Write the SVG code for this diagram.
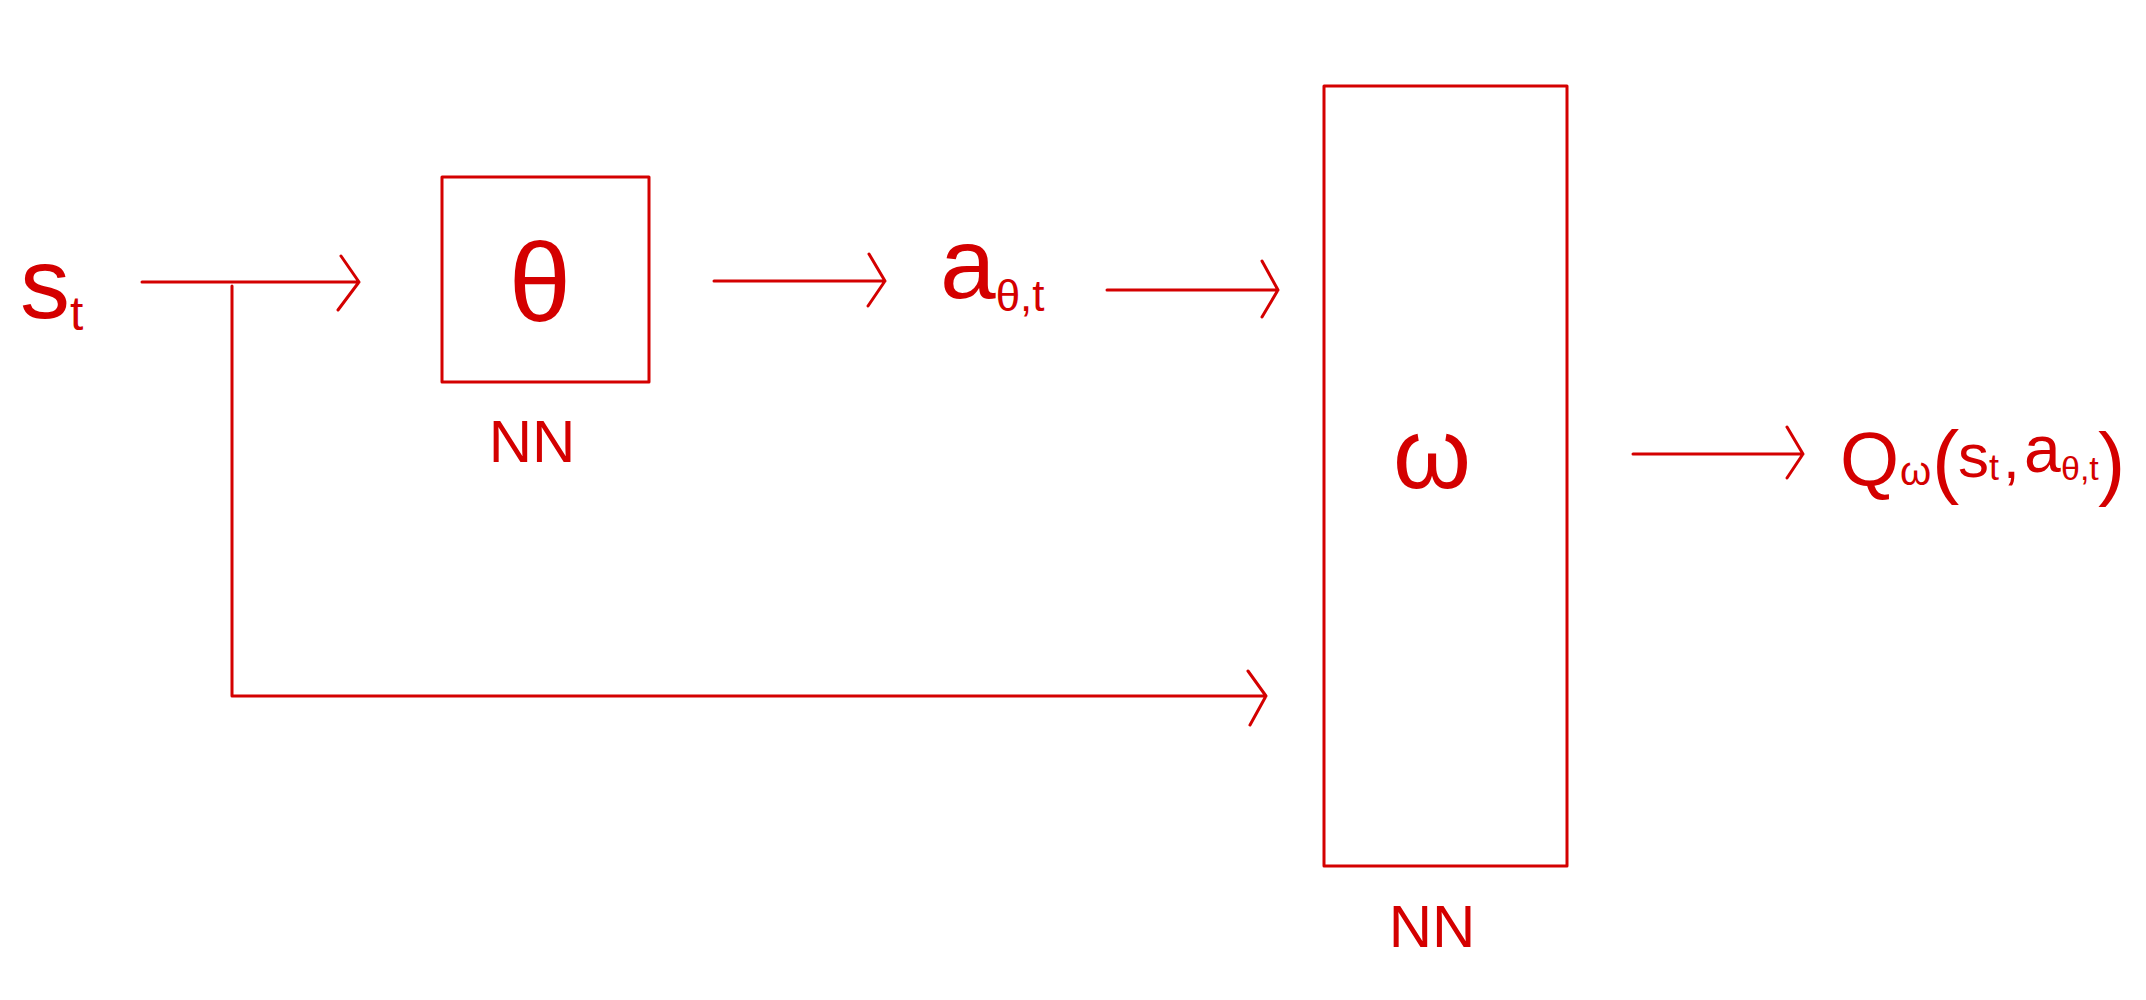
<svg xmlns="http://www.w3.org/2000/svg" width="2146" height="1000" viewBox="0 0 2146 1000">
<style>
.ln{fill:none;stroke:#d40000;stroke-width:3;stroke-linecap:round;stroke-linejoin:round}
.tx{fill:#d40000;font-family:"Liberation Sans","DejaVu Sans",sans-serif}
</style>
<rect width="2146" height="1000" fill="#ffffff"/>
<g id="connectors">
<path class="ln" d="M142 282H359M341 256L359 282L338 310"/>
<path class="ln" d="M232 286V696H1266M1248 671L1266 696L1250 725"/>
<path class="ln" d="M714 281H885M869 254L885 281L868 306"/>
<path class="ln" d="M1107 290H1278M1262 261L1278 290L1262 317"/>
<path class="ln" d="M1633 454H1803M1787 427L1803 454L1787 478"/>
</g>
<g id="input-st">
<text class="tx" x="20" y="318" font-size="100">s<tspan font-size="48" dy="12">t</tspan></text>
</g>
<g id="nn-theta">
<rect class="ln" x="442" y="177" width="207" height="205"/>
<text class="tx" x="540" y="321" font-size="112" text-anchor="middle">θ</text>
<text class="tx" x="532" y="462" font-size="60" text-anchor="middle">NN</text>
</g>
<g id="action">
<text class="tx" x="940" y="298" font-size="100">a<tspan font-size="44" dy="13">θ,t</tspan></text>
</g>
<g id="nn-omega">
<rect class="ln" x="1324" y="86" width="243" height="780"/>
<text class="tx" x="1432" y="488" font-size="100" text-anchor="middle">ω</text>
<text class="tx" x="1432" y="947" font-size="60" text-anchor="middle">NN</text>
</g>
<g id="output-q">
<text class="tx" y="485"><tspan x="1840" font-size="76">Q</tspan><tspan x="1900" font-size="40">ω</tspan><tspan x="1932" y="488" font-size="82">(</tspan><tspan x="1958" y="477" font-size="62">s</tspan><tspan x="1989" y="480" font-size="36">t</tspan><tspan x="2003" y="478" font-size="60">,</tspan><tspan x="2024" y="472" font-size="66">a</tspan><tspan x="2061" y="480" font-size="34">θ,t</tspan><tspan x="2098" y="490" font-size="82">)</tspan></text>
</g>
</svg>
